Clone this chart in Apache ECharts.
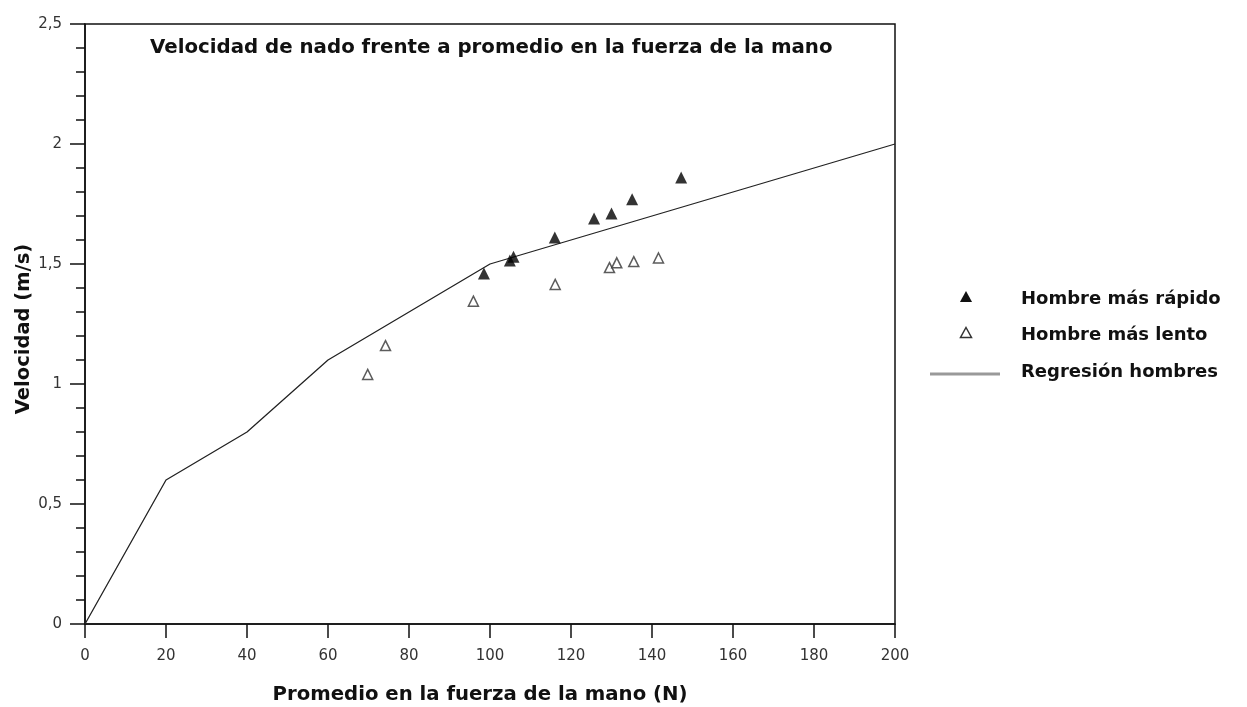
<!DOCTYPE html>
<html>
<head>
<meta charset="utf-8">
<script src="https://cdn.jsdelivr.net/npm/echarts@6/dist/echarts.min.js"></script>
<style>
  html, body { margin: 0; padding: 0; background: #fff; }
  #chart { width: 1247px; height: 707px; }
</style>
</head>
<body>
<div id="chart"></div>
<script>
// Swimming speed vs. mean hand force (men)
const fastForce = [98.5, 104.9, 105.8, 116.0, 125.7, 130.0, 135.1, 147.2];
const fastSpeed = [1.46, 1.515, 1.53, 1.61, 1.69, 1.71, 1.77, 1.86];

const slowForce = [69.8, 74.2, 95.9, 116.1, 129.5, 131.3, 135.5, 141.6];
const slowSpeed = [1.04, 1.16, 1.345, 1.415, 1.485, 1.505, 1.51, 1.525];

const regForce = [0, 20, 40, 60, 100, 200];
const regSpeed = [0, 0.6, 0.8, 1.1, 1.5, 2.0];

const seriesNames = ['Hombre más rápido', 'Hombre más lento', 'Regresión hombres'];

const pairs = (xs, ys) => xs.map((x, i) => [x, ys[i]]);

const chart = echarts.init(document.getElementById('chart'));

const boldFont = 'DejaVu Sans';
const axisText = { color: '#333', fontFamily: 'DejaVu Sans', fontSize: 15 };
const legendText = { fill: '#111', font: 'bold 18px "DejaVu Sans"', verticalAlign: 'middle', align: 'left' };

// Legend drawn as a small graphic block to the right of the plot
const legendX = 966, legendTextX = 1021;
const legendRows = [298, 334, 371];
const tri = (cx, cy, s) => [[cx, cy - s * 0.55], [cx + s * 0.55, cy + s * 0.45], [cx - s * 0.55, cy + s * 0.45]];

chart.setOption({
  animation: false,
  backgroundColor: '#fff',
  title: {
    text: 'Velocidad de nado frente a promedio en la fuerza de la mano',
    left: 145,
    top: 33,
    textStyle: { color: '#111', fontFamily: boldFont, fontWeight: 'bold', fontSize: 19.8 }
  },
  grid: {
    left: 85, right: 352, top: 24, bottom: 83,
    outerBoundsMode: 'none',
    show: true, borderColor: '#111', borderWidth: 1.5, backgroundColor: 'transparent'
  },
  graphic: [
    { type: 'polygon', shape: { points: tri(legendX, legendRows[0] - 1, 11) }, style: { fill: '#111' } },
    { type: 'text', left: legendTextX, top: legendRows[0] - 8, style: Object.assign({ text: seriesNames[0] }, legendText) },
    { type: 'polygon', shape: { points: tri(legendX, legendRows[1] - 1, 10) }, style: { fill: '#fff', stroke: '#333', lineWidth: 1.5 } },
    { type: 'text', left: legendTextX, top: legendRows[1] - 8, style: Object.assign({ text: seriesNames[1] }, legendText) },
    { type: 'line', shape: { x1: 930, y1: legendRows[2] + 3, x2: 1000, y2: legendRows[2] + 3 }, style: { stroke: '#999', lineWidth: 3 } },
    { type: 'text', left: legendTextX, top: legendRows[2] - 8, style: Object.assign({ text: seriesNames[2] }, legendText) }
  ],
  xAxis: {
    type: 'value',
    min: 0, max: 200, interval: 20,
    name: 'Promedio en la fuerza de la mano (N)',
    nameLocation: 'middle',
    nameGap: 61,
    nameMoveOverlap: false,
    nameTextStyle: { color: '#111', fontFamily: boldFont, fontWeight: 'bold', fontSize: 19.7, padding: [0, 20, 0, 0] },
    axisLine: { show: true, onZero: false, lineStyle: { color: '#111', width: 1.5 } },
    axisTick: { show: true, length: 14, lineStyle: { color: '#111', width: 1.5 } },
    axisLabel: Object.assign({ margin: 25 }, axisText),
    splitLine: { show: false }
  },
  yAxis: {
    type: 'value',
    min: 0, max: 2.5, interval: 0.5,
    name: 'Velocidad (m/s)',
    nameLocation: 'middle',
    nameGap: 51,
    nameMoveOverlap: false,
    nameTextStyle: { color: '#111', fontFamily: boldFont, fontWeight: 'bold', fontSize: 19.5, padding: [0, 10, 0, 0] },
    axisLine: { show: true, onZero: false, lineStyle: { color: '#111', width: 1.5 } },
    axisTick: { show: true, length: 15, lineStyle: { color: '#111', width: 1.5 } },
    minorTick: { show: true, splitNumber: 5, length: 9, lineStyle: { color: '#111', width: 1.5 } },
    axisLabel: Object.assign({
      margin: 23,
      formatter: v => String(v).replace('.', ',')
    }, axisText),
    splitLine: { show: false },
    minorSplitLine: { show: false }
  },
  series: [
    {
      name: seriesNames[0],
      type: 'scatter',
      symbol: 'triangle',
      symbolSize: 12,
      itemStyle: { color: '#000' },
      data: pairs(fastForce, fastSpeed),
      z: 3
    },
    {
      name: seriesNames[1],
      type: 'scatter',
      symbol: 'triangle',
      symbolSize: 10,
      itemStyle: { color: '#fff', borderColor: '#333', borderWidth: 1.5 },
      data: pairs(slowForce, slowSpeed),
      z: 3
    },
    {
      name: seriesNames[2],
      type: 'line',
      symbol: 'none',
      lineStyle: { color: '#222', width: 1.3 },
      data: pairs(regForce, regSpeed),
      z: 2
    }
  ]
});
</script>
</body>
</html>
